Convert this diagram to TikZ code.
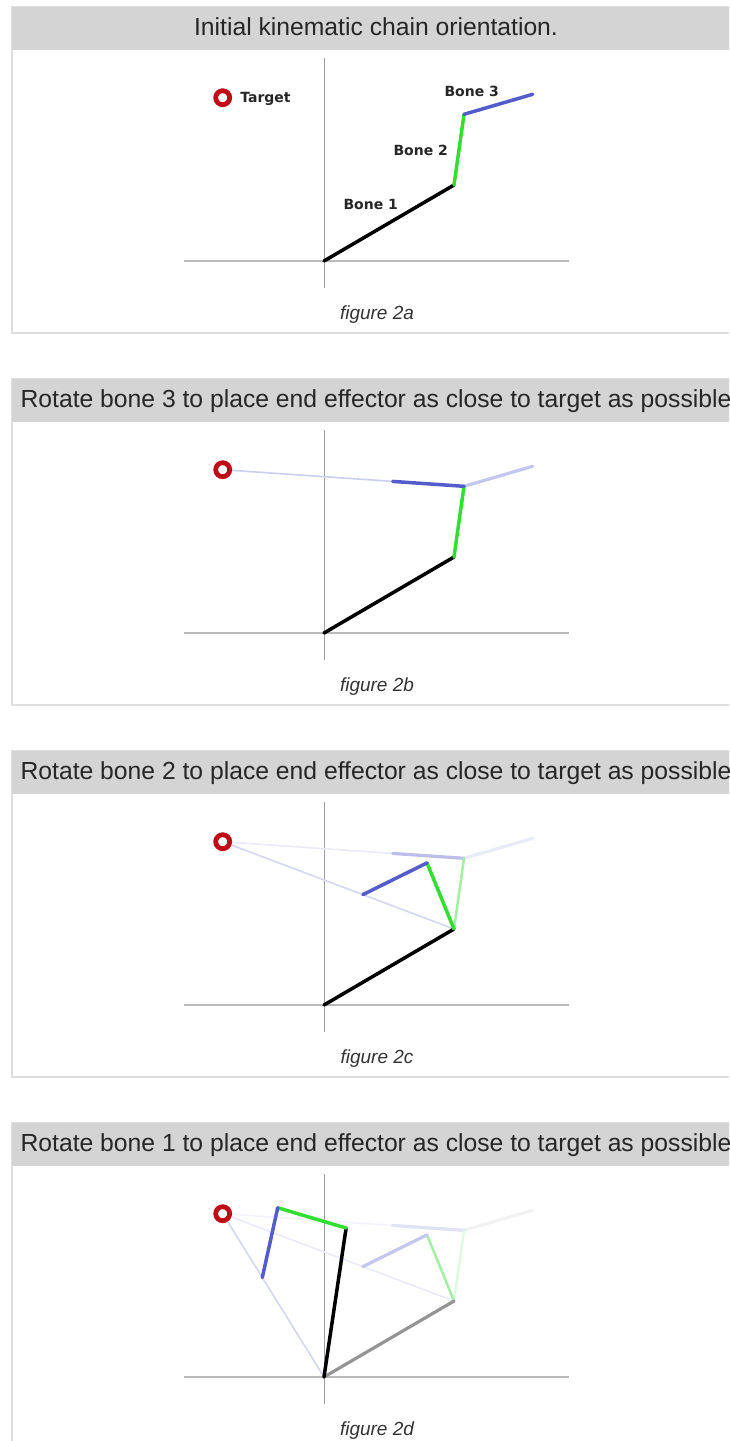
\documentclass[tikz,border=0pt]{standalone}
\usepackage{fontspec}
\setmainfont{Liberation Sans}
\newfontfamily\bonefont{DejaVu Sans}
\definecolor{headgray}{RGB}{212,212,212}
\definecolor{framegray}{RGB}{222,222,222}
\definecolor{bonegreen}{RGB}{50,222,50}
\definecolor{boneblue}{RGB}{84,92,204}
\definecolor{targetred}{RGB}{192,12,24}

\begin{document}
\begin{tikzpicture}[x=1pt, y=-1pt,
    panel/.style={draw=framegray, line width=1.2pt, fill=white},
    header/.style={fill=headgray},
    title/.style={font=\fontsize{24.7}{28}\selectfont, text=black!85, anchor=base},
    caption/.style={font=\fontsize{19}{22}\selectfont\itshape, text=black!80, anchor=base},
    axis/.style={draw=gray!55, line width=2.2pt},
    bone/.style={draw=#1, line width=3.5pt, line cap=round},
    trace/.style={draw=#1, line width=3.2pt, line cap=round},
    aim/.style={draw=#1, line width=1.6pt},
    tag/.style={font=\bonefont\bfseries\fontsize{14}{16}\selectfont, text=black!85},
    target/.style={circle, draw=targetred, line width=4.8pt, minimum size=14pt, inner sep=0pt}
]
    \useasboundingbox (0,0) rectangle (729,1441);
    \clip (0,0) rectangle (729,1441);

    % Panels
    \foreach \k/\txt/\fig in {0/{Initial kinematic chain orientation.}/2a,
        1/{Rotate bone 3 to place end effector as close to target as possible}/2b,
        2/{Rotate bone 2 to place end effector as close to target as possible}/2c,
        3/{Rotate bone 1 to place end effector as close to target as possible}/2d} {
        \begin{scope}[shift={(0,372*\k)}]
            \draw[panel] (12,7) rectangle (740,333);
            \fill[header] (12,7) rectangle (740,50);
            \node[title] (title\k) at (376,35.5) {\txt};
            \node[caption] (cap\k) at (377,319) {figure \fig};
            \draw[axis] (184,261) -- (569,261);
            \draw[gray!75, line width=1pt] (324,58) -- (324,288);
            \node[target] (tgt\k) at (222.7,97.7) {};
            % Gelenke
            \coordinate (p\k-o) at (324,261);
            \coordinate (p\k-j1) at (454,185);
            \coordinate (p\k-j2) at (464,114.3);
            \coordinate (p\k-e) at (532.7,94.3);
            \coordinate (p\k-e1) at (392.7,109.4);
            \coordinate (p\k-j2b) at (427,118.9);
            \coordinate (p\k-e2) at (362.9,150.6);
            \coordinate (p\k-j1c) at (346.1,112.05);
            \coordinate (p\k-j2c) at (277.7,91.75);
            \coordinate (p\k-e3) at (262.3,161.55);
        \end{scope}
    }

    % figure 2a
    \draw[bone=black] (p0-o) -- (p0-j1);
    \draw[bone=bonegreen] (p0-j1) -- (p0-j2);
    \draw[bone=boneblue] (p0-j2) -- (p0-e);
    \node[tag] (lbl1) at (370.7,204) {Bone 1};
    \node[tag] (lbl2) at (420.7,150.7) {Bone 2};
    \node[tag] (lbl3) at (471.7,91) {Bone 3};
    \node[tag] (lblt) at (265.5,99) {Target};

    % figure 2b
    \draw[aim=boneblue!30] (tgt1) -- (p1-j2);
    \draw[trace=boneblue!35] (p1-j2) -- (p1-e);
    \draw[bone=black] (p1-o) -- (p1-j1);
    \draw[bone=bonegreen] (p1-j1) -- (p1-j2);
    \draw[bone=boneblue] (p1-j2) -- (p1-e1);

    % figure 2c
    \draw[aim=boneblue!13] (tgt2) -- (p2-j2);
    \draw[trace=boneblue!12] (p2-j2) -- (p2-e);
    \draw[trace=boneblue!40] (p2-j2) -- (p2-e1);
    \draw[trace=bonegreen!45, line width=2.5pt] (p2-j1) -- (p2-j2);
    \draw[aim=boneblue!25] (tgt2) -- (p2-j1);
    \draw[bone=black] (p2-o) -- (p2-j1);
    \draw[bone=bonegreen] (p2-j1) -- (p2-j2b);
    \draw[bone=boneblue] (p2-j2b) -- (p2-e2);

    % figure 2d
    \draw[aim=boneblue!7] (tgt3) -- (p3-j2);
    \draw[trace=gray!10] (p3-j2) -- (p3-e);
    \draw[trace=boneblue!18] (p3-j2) -- (p3-e1);
    \draw[trace=bonegreen!15, line width=2.5pt] (p3-j1) -- (p3-j2);
    \draw[aim=boneblue!12] (tgt3) -- (p3-j1);
    \draw[trace=bonegreen!45, line width=2.5pt] (p3-j1) -- (p3-j2b);
    \draw[trace=boneblue!35] (p3-j2b) -- (p3-e2);
    \draw[trace=black!42] (p3-o) -- (p3-j1);
    \draw[aim=boneblue!25] (tgt3) -- (p3-o);
    \draw[bone=black] (p3-o) -- (p3-j1c);
    \draw[bone=bonegreen] (p3-j1c) -- (p3-j2c);
    \draw[bone=boneblue] (p3-j2c) -- (p3-e3);

\end{tikzpicture}
\end{document}
